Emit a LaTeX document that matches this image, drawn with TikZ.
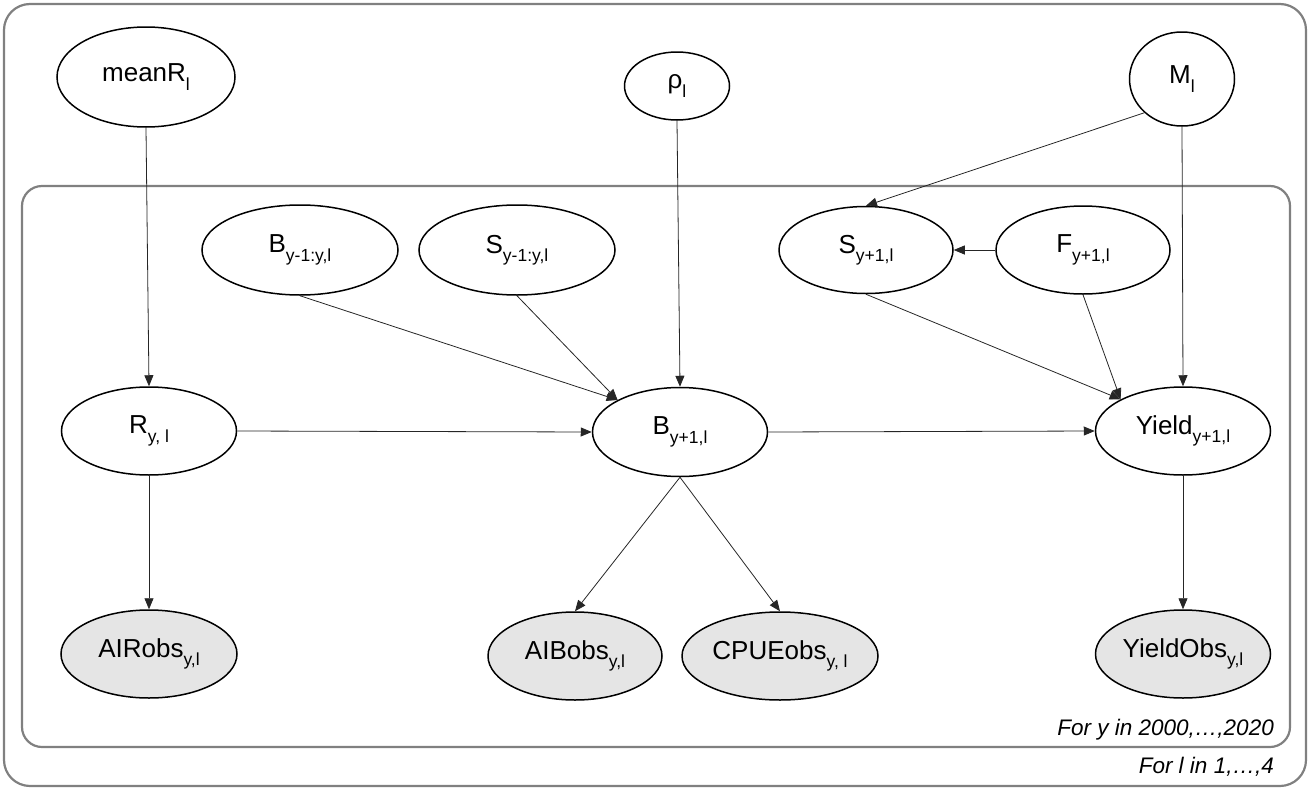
\documentclass[tikz,border=0pt]{standalone}
\usepackage{fontspec}
\setmainfont{Liberation Sans}
\usetikzlibrary{arrows.meta,shapes.geometric}
\newcommand\sbx[1]{\raisebox{-0.32em}{\fontsize{17.5}{20}\selectfont #1}}
\tikzset{
  var/.style={ellipse, draw=black, line width=1.5pt, fill=white, inner sep=0pt,
    font=\fontsize{26}{30}\selectfont},
  obs/.style={var, fill=black!10},
  conn/.style={draw=black!85, line width=0.8pt, -{Triangle[length=11pt,width=9pt]}},
  plate/.style={draw=black!50, line width=2.2pt},
  platelbl/.style={font=\fontsize{22.5}{26}\selectfont\itshape, anchor=base east, inner sep=0pt}
}
\begin{document}
\begin{tikzpicture}[x=1pt,y=-1pt]
\useasboundingbox (0,0) rectangle (1310,790);
% plates
\draw[plate, rounded corners=26pt] (4,4) rectangle (1306,786);
\draw[plate, rounded corners=20pt] (22,186) rectangle (1290,747);
\node[platelbl] (lblY) at (1274,735) {For y in 2000,…,2020};
\node[platelbl] (lblL) at (1274,773) {For l in 1,…,4};
% nodes
\node[var, minimum width=178pt, minimum height=100pt] (meanR) at (146,77) {meanR\sbx{l}};
\node[var, minimum width=105pt, minimum height=68pt] (rho) at (677,86) {ρ\sbx{l}};
\node[var, minimum width=105pt, minimum height=94pt] (M) at (1182,79) {M\sbx{l}};
\node[var, minimum width=196pt, minimum height=90pt] (Bprev) at (300,250) {B\sbx{y-1:y,l}};
\node[var, minimum width=196pt, minimum height=90pt] (Sprev) at (517,250) {S\sbx{y-1:y,l}};
\node[var, minimum width=174pt, minimum height=87pt] (Snext) at (866,250) {S\sbx{y+1,l}};
\node[var, minimum width=174pt, minimum height=88pt] (F) at (1083,250) {F\sbx{y+1,l}};
\node[var, minimum width=175pt, minimum height=88pt] (R) at (149,431) {R\sbx{y, l}};
\node[var, minimum width=175pt, minimum height=89pt] (B) at (680,432) {B\sbx{y+1,l}};
\node[var, minimum width=175pt, minimum height=88pt] (Y) at (1183,431) {Yield\sbx{y+1,l}};
\node[obs, minimum width=176pt, minimum height=88pt] (AIR) at (149,654) {AIRobs\sbx{y,l}};
\node[obs, minimum width=174pt, minimum height=88pt] (AIB) at (575,656) {AIBobs\sbx{y,l}};
\node[obs, minimum width=196pt, minimum height=88pt] (CPUE) at (780,656) {CPUEobs\sbx{y, l}};
\node[obs, minimum width=175pt, minimum height=88pt] (YO) at (1183,654) {YieldObs\sbx{y,l}};
% connectors
\draw[conn] (meanR.south) -- (R.north);
\draw[conn] (rho.south) -- (B.north);
\draw[conn] (M.south west) -- (Snext.north);
\draw[conn] (M.south) -- (Y.north);
\draw[conn] (F.west) -- (Snext.east);
\draw[conn] (Bprev.south) -- (B.north west);
\draw[conn] (Sprev.south) -- (B.north west);
\draw[conn] (Snext.south) -- (Y.north west);
\draw[conn] (F.south) -- (Y.north west);
\draw[conn] (R.east) -- (B.west);
\draw[conn] (B.east) -- (Y.west);
\draw[conn] (R.south) -- (AIR.north);
\draw[conn] (B.south) -- (AIB.north);
\draw[conn] (B.south) -- (CPUE.north);
\draw[conn] (Y.south) -- (YO.north);
\end{tikzpicture}
\end{document}
